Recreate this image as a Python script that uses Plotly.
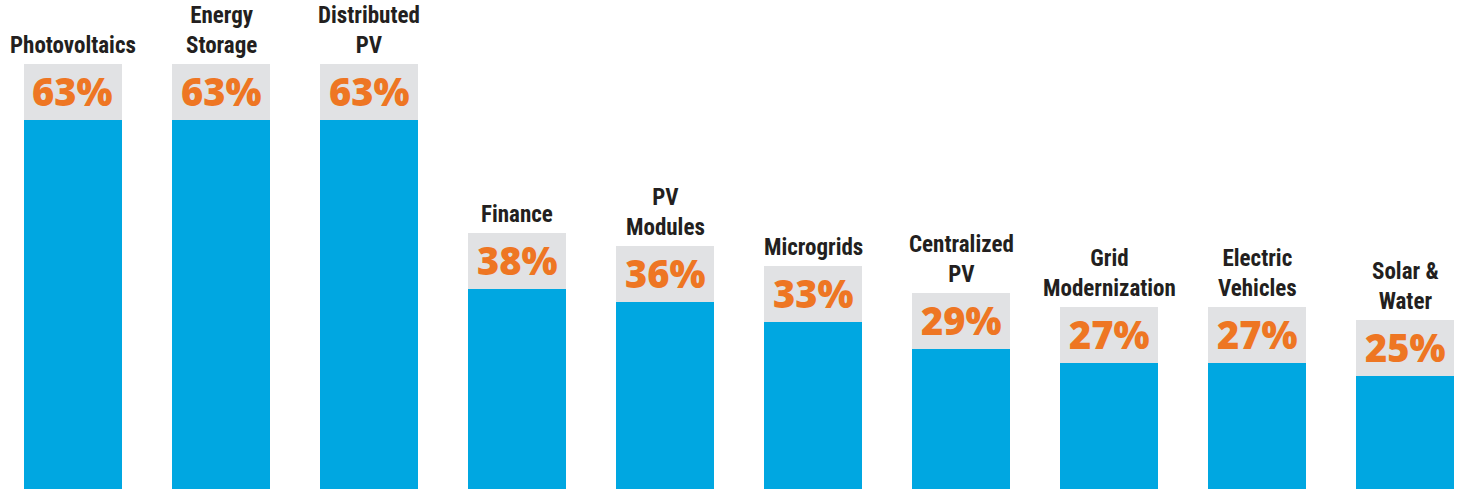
import plotly.graph_objects as go

categories = ["Photovoltaics", "Energy<br>Storage", "Distributed<br>PV", "Finance",
              "PV<br>Modules", "Microgrids", "Centralized<br>PV", "Grid<br>Modernization",
              "Electric<br>Vehicles", "Solar &amp;<br>Water"]
values = [63, 63, 63, 38, 36, 33, 29, 27, 27, 25]
value_labels = ["63%", "63%", "63%", "38%", "36%", "33%", "29%", "27%", "27%", "25%"]

BLUE = "#00A7E1"
GRAY = "#E1E2E4"
ORANGE = "#EE7623"
DARK = "#231F20"
BOX = 8.3  # height of the label box in axis units

x = list(range(len(values)))

fig = go.Figure()
fig.add_trace(go.Bar(x=x, y=[v - BOX for v in values], marker=dict(color=BLUE, line=dict(width=0)),
                     width=0.662, hoverinfo="skip"))
fig.add_trace(go.Bar(x=x, y=[BOX] * len(values), marker=dict(color=GRAY, line=dict(width=0)),
                     width=0.662, hoverinfo="skip"))

annotations = []
for xi, v, lab, cat in zip(x, values, value_labels, categories):
    annotations.append(dict(x=xi, y=v - BOX / 2, text=lab, showarrow=False,
                            xref="x", yref="y", yanchor="middle", yshift=1,
                            font=dict(family="Open Sans, sans-serif", size=38, color=ORANGE,
                                      weight=800)))
    annotations.append(dict(x=xi, y=v, text=cat, showarrow=False, xref="x", yref="y",
                            yanchor="bottom", yshift=3,
                            font=dict(family="Liberation Sans Narrow, Roboto Condensed, DejaVu Sans Condensed, sans-serif",
                                      size=23, color=DARK, weight="bold")))

fig.update_layout(
    width=1460, height=489,
    margin=dict(l=0, r=0, t=0, b=0),
    barmode="stack",
    showlegend=False,
    plot_bgcolor="white", paper_bgcolor="white",
    xaxis=dict(range=[-0.4932, 9.3716], visible=False, fixedrange=True),
    yaxis=dict(range=[0, 72.5], visible=False, fixedrange=True),
    annotations=annotations,
)

fig.write_html("out.html", config={"displayModeBar": False})

with open("out.html", "r", encoding="utf-8") as f:
    html = f.read()
html = html.replace("<head>", "<head><style>html,body{margin:0;padding:0;overflow:hidden;}</style>", 1)
with open("out.html", "w", encoding="utf-8") as f:
    f.write(html)
